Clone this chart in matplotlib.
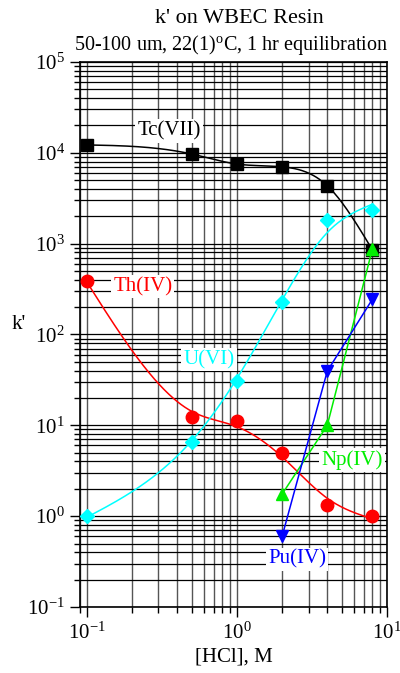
import numpy as np
import matplotlib
matplotlib.use("Agg")
import matplotlib.pyplot as plt
from matplotlib.ticker import LogLocator, LogFormatterMathtext, NullFormatter

plt.rcParams['font.family'] = ['Liberation Serif', 'DejaVu Serif']
plt.rcParams['mathtext.fontset'] = 'custom'
plt.rcParams['mathtext.rm'] = 'Liberation Serif'
plt.rcParams['mathtext.it'] = 'Liberation Serif:italic'

# data
hcl = [0.1, 0.5, 1, 2, 4, 8]
tc_k = [12200, 9700, 7500, 7000, 4300, 850]
th_k = [390, 12.2, 11.1, 4.9, 1.32, 1.0]
u_k = [1.0, 6.5, 31, 225, 1800, 2320]
hcl_np = [2, 4, 8]
np_k = [1.75, 10, 880]
hcl_pu = [2, 4, 8]
pu_k = [0.6, 39.5, 245]


# penalised smoothing curve (like a smoothing spline) in log-log space
def smooth(x, y, lam, n=301):
	lx = np.log10(np.asarray(x, float))
	ly = np.log10(np.asarray(y, float))
	g = np.linspace(lx[0], lx[-1], n)
	h = g[1] - g[0]
	w = np.zeros(n)
	z = np.zeros(n)
	for a, b in zip(lx, ly):
		k = int(np.argmin(np.abs(g - a)))
		w[k] = 1.0
		z[k] = b
	D = np.zeros((n - 2, n))
	for i in range(n - 2):
		D[i, i:i+3] = [1, -2, 1]
	D /= h**2
	A = np.diag(w) + lam * h * D.T @ D
	f = np.linalg.solve(A, w * z)
	return 10**g, 10**f


fig = plt.figure(figsize=(4, 6.73), dpi=100)
ax = fig.add_axes([0.2, 0.098, 0.7675, 0.81])
ax.set_xscale('log')
ax.set_yscale('log')
ax.set_xlim(0.09, 10)
ax.set_ylim(1e-1, 1e5)

ax.xaxis.set_major_locator(LogLocator(base=10, numticks=10))
ax.xaxis.set_minor_locator(LogLocator(base=10, subs=np.arange(2, 10), numticks=20))
ax.yaxis.set_major_locator(LogLocator(base=10, numticks=10))
ax.yaxis.set_minor_locator(LogLocator(base=10, subs=np.arange(2, 10), numticks=20))
ax.xaxis.set_major_formatter(LogFormatterMathtext())
ax.yaxis.set_major_formatter(LogFormatterMathtext())
ax.xaxis.set_minor_formatter(NullFormatter())
ax.yaxis.set_minor_formatter(NullFormatter())

ax.grid(True, which='both', axis='y', color='black', lw=0.9)
ax.grid(True, which='both', axis='x', color='#555555', lw=1.0)
ax.set_axisbelow(True)
ax.tick_params(which='major', direction='out', length=7, width=1, labelsize=15, pad=4)
ax.tick_params(which='minor', direction='out', length=4, width=1)
for s in ax.spines.values():
	s.set_linewidth(1.2)

green = '#00ee00'
curved = [
	(hcl, tc_k, 'black', 's', 8, 2e-5),
	(hcl, th_k, 'red', 'o', 9, 2e-3),
	(hcl, u_k, 'cyan', 'D', 7.5, 3e-3),
]
for x, y, c, mk, ms, lam in curved:
	sx, sy = smooth(x, y, lam)
	ax.plot(sx, sy, color=c, lw=1.1, zorder=3)
	ax.plot(x, y, ls='none', marker=mk, color=c, ms=ms, zorder=4)

ax.plot(hcl_np, np_k, color=green, lw=1.1, marker='^', ms=9, zorder=4)
ax.plot(hcl_pu, pu_k, color='blue', lw=1.1, marker='v', ms=9, zorder=4)

box = dict(facecolor='white', edgecolor='none', pad=1.5)
ax.text(0.352, 1.74e4, 'Tc(VII)', color='black', fontsize=15, ha='center', va='center', bbox=box)
ax.text(0.236, 337, 'Th(IV)', color='red', fontsize=15, ha='center', va='center', bbox=box)
ax.text(0.65, 53, 'U(VI)', color='cyan', fontsize=15, ha='center', va='center', bbox=box)
ax.text(5.84, 4.12, 'Np(IV)', color=green, fontsize=15, ha='center', va='center', bbox=box)
ax.text(2.51, 0.336, 'Pu(IV)', color='blue', fontsize=15, ha='center', va='center', bbox=box)

ax.set_xlabel('[HCl], M', fontsize=15, labelpad=3)
ax.set_ylabel("k'", fontsize=15, rotation=0)
ax.yaxis.set_label_coords(-0.2, 0.5)

fig.text(0.599, 0.973, "k' on WBEC Resin", fontsize=16, ha='center', va='center')
fig.text(0.578, 0.933, '50-100 um, 22(1)$^{\\rm o}$C, 1 hr equilibration', fontsize=14.5, ha='center', va='center')

fig.savefig('out.png', dpi=100)
